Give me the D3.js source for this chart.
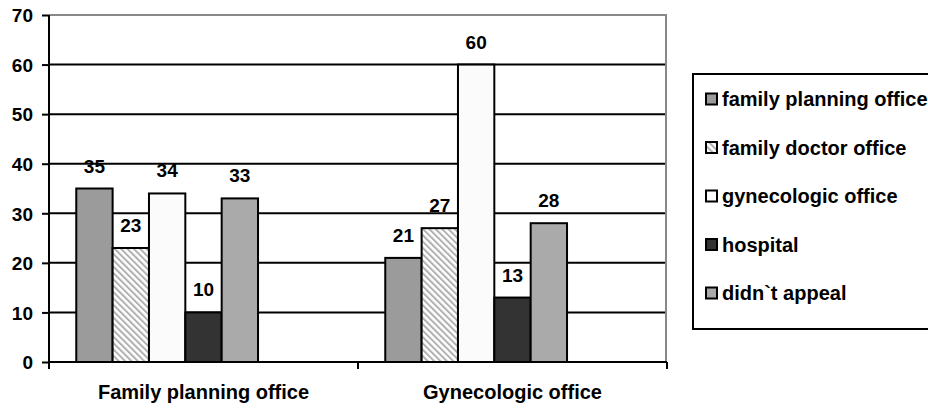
<!DOCTYPE html>
<html>
<head>
<meta charset="utf-8">
<script src="https://cdn.jsdelivr.net/npm/d3@7"></script>
<style>
  html, body { margin: 0; padding: 0; background: #fff; }
  svg { display: block; font-family: Arial, "Liberation Sans", sans-serif; font-weight: bold; }
</style>
</head>
<body>
<svg id="chart" width="928" height="408"></svg>
<script>
// Where women went, grouped by the office they were asked in
const categories = ["Family planning office", "Gynecologic office"];
const seriesNames = ["family planning office", "family doctor office", "gynecologic office", "hospital", "didn`t appeal"];
const familyPlanningValues = [35, 23, 34, 10, 33];
const gynecologicValues = [21, 27, 60, 13, 28];
const yTicks = [0, 10, 20, 30, 40, 50, 60, 70];

const valuesByCategory = [familyPlanningValues, gynecologicValues];
const fills = ["#9b9b9b", "url(#hatch)", "#fbfbfb", "#333333", "#aaaaaa"];

const svg = d3.select("#chart");
const plot = { left: 49, right: 667, top: 15, bottom: 362 };

// Diagonal hatch for the family doctor series
const defs = svg.append("defs");
const pat = defs.append("pattern")
  .attr("id", "hatch")
  .attr("patternUnits", "userSpaceOnUse")
  .attr("width", 4.5).attr("height", 4.5)
  .attr("patternTransform", "rotate(-45)");
pat.append("rect").attr("width", 4.5).attr("height", 4.5).attr("fill", "#ffffff");
pat.append("rect").attr("width", 2).attr("height", 4.5).attr("fill", "#b0b0b0");

const y = d3.scaleLinear().domain([0, 70]).range([plot.bottom, plot.top]);
const x0 = d3.scaleBand().domain(categories).range([plot.left, plot.right]).padding(0);

// Seven bar slots per category with a 150% gap; the five series take the first five
const slotW = x0.bandwidth() / (7 + 1.5);
const x1 = d3.scaleBand().domain(seriesNames)
  .range([slotW * 0.75, slotW * 0.75 + slotW * seriesNames.length]).padding(0);

// Gridlines
svg.append("g").selectAll("line")
  .data(yTicks.filter(t => t > 0))
  .join("line")
  .attr("x1", plot.left).attr("x2", plot.right)
  .attr("y1", d => y(d)).attr("y2", d => y(d))
  .attr("stroke", d => d === 70 ? "#888888" : "#000000")
  .attr("stroke-width", 2);

// Plot area right border
svg.append("line")
  .attr("x1", plot.right - 1).attr("x2", plot.right - 1)
  .attr("y1", plot.top).attr("y2", plot.bottom)
  .attr("stroke", "#888888").attr("stroke-width", 2);

// Bars
const groups = svg.append("g").selectAll("g")
  .data(categories)
  .join("g")
  .attr("transform", d => `translate(${x0(d)},0)`);

groups.selectAll("rect")
  .data((c, i) => seriesNames.map((s, j) => ({ s, j, v: valuesByCategory[i][j] })))
  .join("rect")
  .attr("x", d => x1(d.s))
  .attr("width", x1.bandwidth())
  .attr("y", d => y(d.v))
  .attr("height", d => y(0) - y(d.v))
  .attr("fill", d => fills[d.j])
  .attr("stroke", "#000")
  .attr("stroke-width", 2);

groups.selectAll("text")
  .data((c, i) => seriesNames.map((s, j) => ({ s, j, v: valuesByCategory[i][j] })))
  .join("text")
  .attr("x", d => x1(d.s) + x1.bandwidth() / 2)
  .attr("y", d => y(d.v) - 16)
  .attr("text-anchor", "middle")
  .attr("font-size", 19)
  .attr("fill", "#000")
  .text(d => d.v);

// Y axis
const yAxis = svg.append("g").attr("transform", `translate(${plot.left},0)`)
  .call(d3.axisLeft(y).tickValues(yTicks).tickSize(7).tickPadding(9));
yAxis.select(".domain").attr("stroke", "#000").attr("stroke-width", 2)
  .attr("d", `M0,${plot.top}V${plot.bottom + 7}`);
yAxis.selectAll(".tick line").attr("stroke", "#000").attr("stroke-width", 2);
yAxis.selectAll(".tick text")
  .attr("font-size", 19).attr("font-family", "Arial, 'Liberation Sans', sans-serif")
  .attr("font-weight", "bold").attr("fill", "#000").attr("dy", "0.36em");

// X axis with ticks on the category boundaries
const xg = svg.append("g");
xg.append("line")
  .attr("x1", plot.left).attr("x2", plot.right)
  .attr("y1", plot.bottom).attr("y2", plot.bottom)
  .attr("stroke", "#000").attr("stroke-width", 2);
xg.selectAll(".bound")
  .data(categories.map(c => x0(c)).concat([x0.range()[1]]))
  .join("line")
  .attr("class", "bound")
  .attr("x1", d => d).attr("x2", d => d)
  .attr("y1", plot.bottom).attr("y2", plot.bottom + 7)
  .attr("stroke", "#000").attr("stroke-width", 2);
xg.selectAll("text")
  .data(categories)
  .join("text")
  .attr("x", d => x0(d) + x0.bandwidth() / 2)
  .attr("y", 399)
  .attr("text-anchor", "middle")
  .attr("font-size", 20)
  .attr("fill", "#000")
  .text(d => d);

// Legend
const legend = svg.append("g");
legend.append("rect")
  .attr("x", 693).attr("y", 74)
  .attr("width", 260).attr("height", 255)
  .attr("fill", "#fff").attr("stroke", "#000").attr("stroke-width", 2);
const rowY = d3.scalePoint().domain(seriesNames).range([99, 293]);
const items = legend.selectAll("g.item")
  .data(seriesNames)
  .join("g").attr("class", "item")
  .attr("transform", d => `translate(0,${rowY(d)})`);
items.append("rect")
  .attr("x", 706).attr("y", -5.5)
  .attr("width", 11).attr("height", 11)
  .attr("fill", (d, i) => fills[i])
  .attr("stroke", "#000").attr("stroke-width", 2);
items.append("text")
  .attr("x", 722).attr("y", 7)
  .attr("font-size", 20)
  .attr("fill", "#000")
  .text(d => d);
</script>
</body>
</html>
